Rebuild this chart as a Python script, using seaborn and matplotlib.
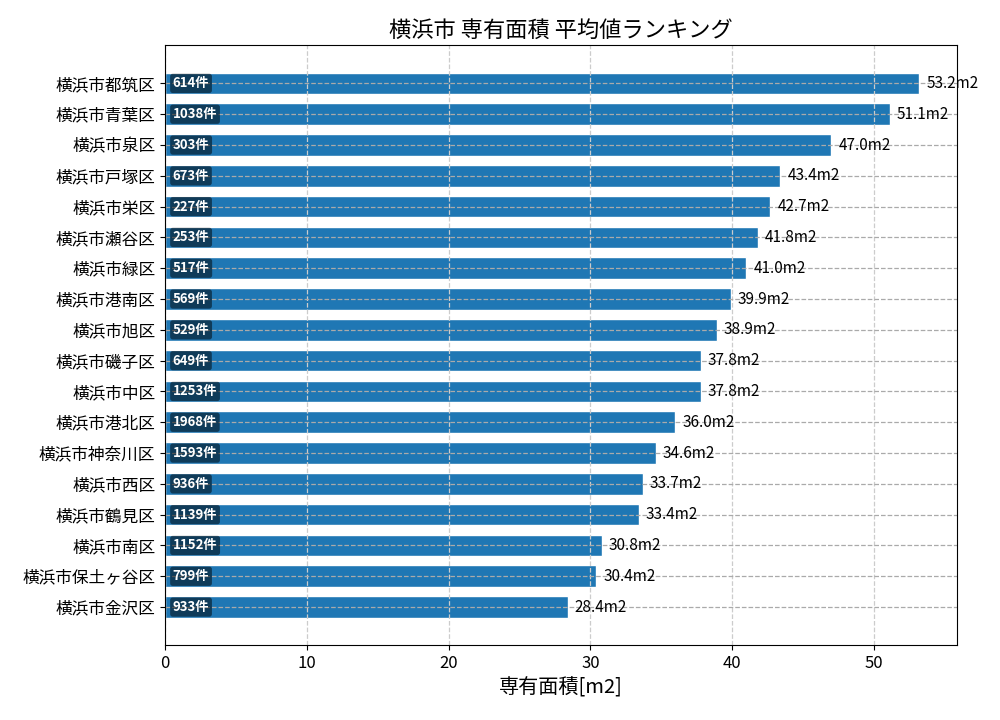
import pandas as pd
import matplotlib
matplotlib.use('Agg')
import matplotlib.pyplot as plt
import seaborn as sns

wards = ['横浜市都筑区', '横浜市青葉区', '横浜市泉区', '横浜市戸塚区', '横浜市栄区',
         '横浜市瀬谷区', '横浜市緑区', '横浜市港南区', '横浜市旭区', '横浜市磯子区',
         '横浜市中区', '横浜市港北区', '横浜市神奈川区', '横浜市西区', '横浜市鶴見区',
         '横浜市南区', '横浜市保土ヶ谷区', '横浜市金沢区']
avg_area = [53.2, 51.1, 47.0, 43.4, 42.7, 41.8, 41.0, 39.9, 38.9, 37.8,
            37.8, 36.0, 34.6, 33.7, 33.4, 30.8, 30.4, 28.4]
counts = [614, 1038, 303, 673, 227, 253, 517, 569, 529, 649,
          1253, 1968, 1593, 936, 1139, 1152, 799, 933]


def plot_ranking():
    df = pd.DataFrame({'ward': wards, 'area': avg_area, 'count': counts})

    sns.set_style('ticks', {'text.color': 'black', 'axes.labelcolor': 'black',
                            'xtick.color': 'black', 'ytick.color': 'black',
                            'axes.edgecolor': 'black'})
    plt.rcParams['font.family'] = ['Noto Sans CJK JP', 'DejaVu Sans']

    fig, ax = plt.subplots(figsize=(10, 7.2), dpi=100)
    sns.barplot(x='area', y='ward', data=df, color='#1f77b4', saturation=1,
                width=0.7, orient='h', ax=ax)

    ax.set_xlim(0, max(avg_area) * 1.05)
    ax.set_ylim(len(wards) - 1 + 1.235, -1.235)

    ax.grid(axis='x', linestyle='--', color='#cccccc', linewidth=0.9)
    ax.grid(axis='y', linestyle='--', color='#aaaaaa', linewidth=0.9)
    ax.set_axisbelow(False)

    for i, (v, c) in enumerate(zip(avg_area, counts)):
        ax.text(v + 0.5, i, f'{v:.1f}m2', va='center', ha='left', fontsize=11)
        ax.text(0.55, i, f'{c}件', va='center', ha='left', fontsize=9.5,
                color='white', fontweight='bold',
                bbox=dict(boxstyle='round,pad=0.2', facecolor='black',
                          alpha=0.5, edgecolor='none'))

    ax.set_title('横浜市 専有面積 平均値ランキング', fontsize=16)
    ax.set_xlabel('専有面積[m2]', fontsize=14.5)
    ax.set_ylabel('')
    ax.tick_params(labelsize=12, colors='black')
    for s in ax.spines.values():
        s.set_visible(True)
        s.set_color('black')
        s.set_zorder(5)

    plt.subplots_adjust(left=0.165, right=0.957, top=0.937, bottom=0.104)
    plt.savefig('out.png', dpi=100)


if __name__ == "__main__":
    plot_ranking()
